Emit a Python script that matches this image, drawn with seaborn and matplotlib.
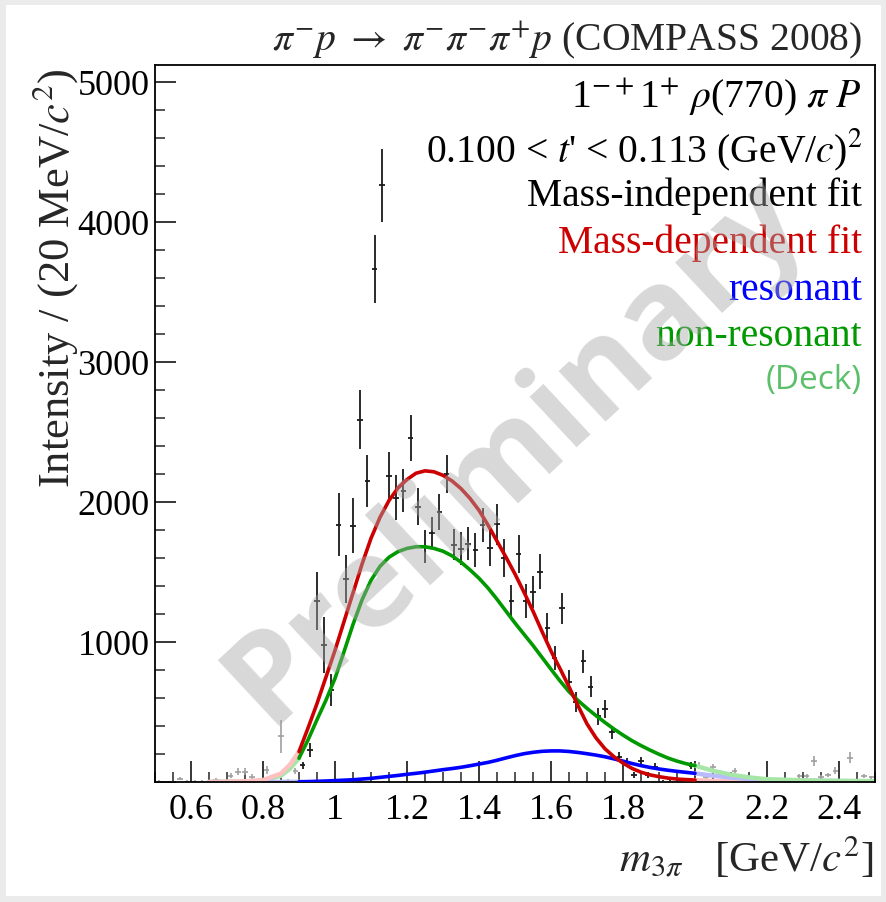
import numpy as np
import pandas as pd
import matplotlib
matplotlib.use("Agg")
import matplotlib.pyplot as plt
import matplotlib.ticker as mticker
from matplotlib.patches import Rectangle
import seaborn as sns

# ---------------- data ----------------
mass = np.round(np.arange(0.51, 2.50, 0.02), 2)   # 20 MeV bin centres
intensity = [
    3, 2, 0, 24, 3, 3, 3, 0, 14, 5,
    44, 74, 72, 36, 14, 86, 5, 326, 10, 80,
    120, 230, 1293, 979, 657, 1838, 1450, 1830, 2587, 2149,
    3662, 4262, 2188, 2030, 2081, 2456, 1967, 1681, 1781, 1929,
    2200, 1693, 1667, 1702, 1657, 1836, 1669, 1840, 1598, 1290,
    1631, 1293, 1357, 1502, 1101, 886, 1240, 717, 574, 862,
    681, 469, 521, 355, 181, 138, 50, 152, 50, 110,
    2, 19, 0, 10, 117, 117, 38, 105, 67, 33,
    81, 31, 15, 10, 5, 3, 5, 5, 5, 43,
    45, 150, 38, 50, 81, 2, 174, 14, 43, 33,
]
error = [
    8, 8, 8, 12, 8, 8, 8, 8, 12, 10,
    18, 25, 25, 18, 12, 30, 10, 119, 12, 22,
    25, 51, 206, 202, 117, 226, 172, 198, 212, 183,
    245, 260, 171, 162, 151, 162, 133, 115, 110, 127,
    137, 111, 117, 120, 123, 124, 129, 148, 135, 119,
    135, 120, 117, 127, 107, 86, 113, 81, 71, 83,
    74, 60, 63, 45, 36, 32, 24, 30, 24, 25,
    15, 15, 12, 12, 25, 25, 15, 22, 18, 12,
    20, 12, 8, 8, 8, 8, 8, 8, 8, 15,
    15, 38, 12, 15, 25, 8, 40, 10, 15, 12,
]

# curves every 25 MeV inside the fit range
fit_mass = [0.900, 0.925, 0.950, 0.975, 1.000, 1.025, 1.050, 1.075, 1.100, 1.125,
            1.150, 1.175, 1.200, 1.225, 1.250, 1.275, 1.300, 1.325, 1.350, 1.375,
            1.400, 1.425, 1.450, 1.475, 1.500, 1.525, 1.550, 1.575, 1.600, 1.625,
            1.650, 1.675, 1.700, 1.725, 1.750, 1.775, 1.800, 1.825, 1.850, 1.875,
            1.900, 1.925, 1.950, 1.975, 2.000]
total_fit = [217, 385, 560, 750, 940, 1145, 1350, 1555, 1740, 1890,
             2010, 2100, 2160, 2205, 2222, 2215, 2190, 2150, 2095, 2025,
             1940, 1835, 1720, 1605, 1485, 1355, 1220, 1075, 935, 810,
             680, 545, 415, 315, 237, 180, 135, 97, 70, 51,
             38, 28, 21, 17, 14]
nonres_fit = [170, 300, 445, 585, 740, 930, 1125, 1300, 1440, 1540,
              1605, 1645, 1668, 1680, 1680, 1668, 1648, 1615, 1570, 1515,
              1455, 1385, 1305, 1220, 1135, 1055, 975, 890, 805, 722,
              645, 582, 526, 474, 425, 378, 335, 295, 260, 228,
              198, 171, 149, 131, 117]
res_fit = [2, 3, 5, 7, 10, 13, 16, 21, 26, 33,
           40, 47, 55, 62, 70, 79, 88, 96, 105, 116,
           128, 140, 155, 172, 188, 202, 212, 219, 222, 222,
           218, 211, 202, 192, 180, 165, 149, 132, 117, 104,
           93, 84, 76, 69, 62]

low_mass = [0.65, 0.70, 0.75, 0.80, 0.85, 0.875, 0.90]
total_low = [0, 2, 5, 14, 60, 125, 217]
nonres_low = [0, 1, 4, 10, 45, 95, 170]
res_low = [0, 0, 0, 0, 1, 1, 2]

high_mass = [2.00, 2.05, 2.10, 2.15, 2.20, 2.30, 2.40, 2.50]
total_high = [14, 8, 5, 3, 2, 1, 0, 0]
nonres_high = [117, 80, 52, 33, 20, 12, 8, 6]
res_high = [62, 45, 32, 22, 15, 10, 7, 5]

# ---------------- style ----------------
sns.set_theme(style="white")
plt.rcParams["font.family"] = ["Liberation Serif", "DejaVu Serif"]
plt.rcParams["mathtext.fontset"] = "stix"

RED = "#cc0000"
GREEN = "#009900"
BLUE = "#0000ff"

fig = plt.figure(figsize=(8.87, 9.03), dpi=100, facecolor="#ebebeb")
fig.patches.append(Rectangle((6 / 887, 6 / 903), 875 / 887, 891 / 903,
                             transform=fig.transFigure, facecolor="white",
                             edgecolor="none", zorder=-10))
ax = fig.add_axes([155 / 887, 1 - 783 / 903, 720 / 887, 717 / 903])
ax.set_zorder(1)
ax.set_facecolor("white")

df = pd.DataFrame({"mass": mass, "intensity": intensity, "error": error})
in_range = (df["mass"] > 0.9) & (df["mass"] < 2.0)
dark = df[in_range]
light = df[~in_range]

ax.errorbar(light["mass"], light["intensity"], yerr=light["error"], xerr=0.008,
            fmt="none", ecolor="#a0a0a0", elinewidth=1.2, capsize=0, zorder=2)
ax.errorbar(dark["mass"], dark["intensity"], yerr=dark["error"], xerr=0.008,
            fmt="none", ecolor="#1a1a1a", elinewidth=1.3, capsize=0, zorder=3)

# faded extrapolations outside the fit range
for xs, ys, col in [(low_mass, nonres_low, "#a8e6a8"), (low_mass, res_low, "#b8bcff"),
                    (low_mass, total_low, "#ffc0c0"),
                    (high_mass, total_high, "#ffc0c0"), (high_mass, res_high, "#b8bcff"),
                    (high_mass, nonres_high, "#a8e6a8")]:
    sns.lineplot(x=xs, y=ys, color=col, lw=3.2, ax=ax, zorder=2.5)

sns.lineplot(x=fit_mass, y=nonres_fit, color=GREEN, lw=2.6, ax=ax, zorder=4)
sns.lineplot(x=fit_mass, y=res_fit, color=BLUE, lw=2.6, ax=ax, zorder=4)
sns.lineplot(x=fit_mass, y=total_fit, color=RED, lw=2.6, ax=ax, zorder=5)

ax.set_xlim(0.5, 2.5)
ax.set_ylim(0, 5120)
ax.xaxis.set_major_locator(mticker.MultipleLocator(0.2))
ax.xaxis.set_minor_locator(mticker.MultipleLocator(0.05))
ax.xaxis.set_major_formatter(mticker.FuncFormatter(lambda v, p: f"{v:g}"))
ax.yaxis.set_major_locator(mticker.MultipleLocator(1000))
ax.yaxis.set_minor_locator(mticker.MultipleLocator(200))
ax.yaxis.set_major_formatter(mticker.FuncFormatter(lambda v, p: "" if v == 0 else f"{v:g}"))
ax.tick_params(which="major", direction="in", length=15, width=1.1, labelsize=26,
               colors="black", top=False, right=False, bottom=True, left=True)
ax.tick_params(which="minor", direction="in", length=7.5, width=1.1,
               top=False, right=False, bottom=True, left=True)
ax.tick_params(axis="x", which="major", pad=8)
ax.tick_params(axis="y", which="major", pad=4)
for s in ax.spines.values():
    s.set_color("black")
    s.set_linewidth(1.3)
ax.set_xlabel("")
ax.set_ylabel("")

# axis titles
fig.text(55 / 887, 1 - 278 / 903, r"Intensity / (20 MeV/$c^{2}$)", rotation=90,
         ha="center", va="center", fontsize=32)
fig.text(874 / 887, 1 - 858 / 903, r"$m_{3\pi}$   [GeV/$c^{2}$]", ha="right",
         va="center", fontsize=31)

# header and labels
fig.text(862 / 887, 1 - 40 / 903,
         r"$\pi^{-}p\ \rightarrow\ \pi^{-}\pi^{-}\pi^{+}p$ (COMPASS 2008)",
         ha="right", va="center", fontsize=28.5)
labels = [
    (97, r"1$^{-+}$1$^{+}$ $\rho$(770) $\pi$ $P$", "black"),
    (150, r"0.100 < $t$' < 0.113 (GeV/$c$)$^{2}$", "black"),
    (196, "Mass-independent fit", "black"),
    (243, "Mass-dependent fit", RED),
    (290, "resonant", BLUE),
    (337, "non-resonant", GREEN),
]
for ypix, txt, col in labels:
    fig.text(862 / 887, 1 - ypix / 903, txt, ha="right", va="center",
             fontsize=28.5, color=col, zorder=5)
fig.text(862 / 887, 1 - 380 / 903, "(Deck)", ha="right", va="center",
         fontsize=24, color="#5cbf6a", family=["Open Sans", "DejaVu Sans"], zorder=5)

# watermark
fig.text(515 / 887, 1 - 450 / 903, "Preliminary", rotation=43, ha="center",
         va="center", fontsize=91, fontweight="bold", color="#a8a8a8", alpha=0.45,
         family=["Open Sans", "DejaVu Sans"], zorder=10)

fig.savefig("out.png", dpi=100, facecolor=fig.get_facecolor())
